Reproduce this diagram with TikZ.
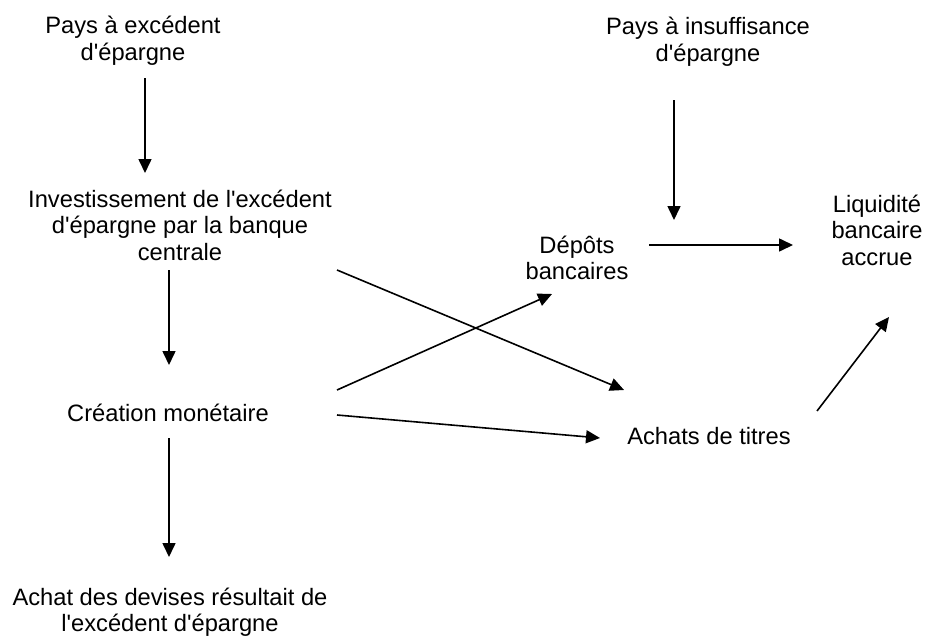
\documentclass[tikz,border=0pt]{standalone}
\usepackage{fontspec}
\setmainfont{Liberation Sans}[Ligatures=TeXOff]
\usetikzlibrary{arrows.meta}
\newcommand\blk[1]{\begin{tabular}[t]{@{}c@{}}#1\end{tabular}}
\begin{document}
\begin{tikzpicture}[x=1pt,y=-1pt,
  lbl/.style={anchor=base,inner sep=0pt,font=\fontsize{23.7}{26.5}\selectfont},
  arr/.style={draw=black,line width=1.6pt,-{Triangle[length=14pt,width=13pt]}}]
\useasboundingbox[fill=white] (0,0) rectangle (925,642);
% nodes
\node[lbl] (A) at (133,34) {\blk{Pays à excédent\\d'épargne}};
\node[lbl] (B) at (180,207) {\blk{Investissement de l'excédent\\d'épargne par la banque\\centrale}};
\node[lbl] (C) at (168,421) {Création monétaire};
\node[lbl] (D) at (170,605) {\blk{Achat des devises résultait de\\l'excédent d'épargne}};
\node[lbl] (E) at (708,35) {\blk{Pays à insuffisance\\d'épargne}};
\node[lbl] (F) at (577,253) {\blk{Dépôts\\bancaires}};
\node[lbl] (G) at (877,212) {\blk{Liquidité\\bancaire\\accrue}};
\node[lbl] (H) at (709,444) {Achats de titres};
% connector ends
\coordinate (A-o) at (145,78);   \coordinate (B-i) at (145,173);
\coordinate (B-o) at (169,270);  \coordinate (C-i) at (169,365);
\coordinate (C-o) at (169,438);  \coordinate (D-i) at (169,557);
\coordinate (E-o) at (674,100);  \coordinate (F-t) at (674,220);
\coordinate (F-o) at (649,245);  \coordinate (G-i) at (793,245);
\coordinate (C-u) at (337,390);  \coordinate (F-i) at (552,294);
\coordinate (B-r) at (337,270);  \coordinate (H-t) at (624,390);
\coordinate (C-r) at (337,415);  \coordinate (H-i) at (600,438);
\coordinate (H-o) at (817,411);  \coordinate (G-b) at (889,317);
% connectors
\draw[arr] (A-o) -- (B-i);
\draw[arr] (B-o) -- (C-i);
\draw[arr] (C-o) -- (D-i);
\draw[arr] (E-o) -- (F-t);
\draw[arr] (F-o) -- (G-i);
\draw[arr] (C-u) -- (F-i);
\draw[arr] (B-r) -- (H-t);
\draw[arr] (C-r) -- (H-i);
\draw[arr] (H-o) -- (G-b);
\end{tikzpicture}
\end{document}
